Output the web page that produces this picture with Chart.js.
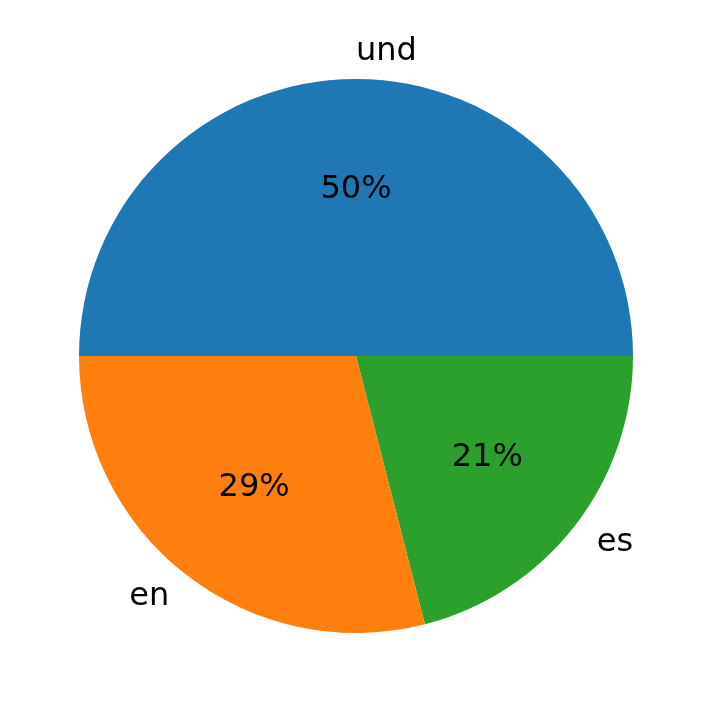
<!DOCTYPE html>
<html><head><meta charset="utf-8">
<script src="https://cdn.jsdelivr.net/npm/chart.js@4"></script>
<style>html,body{margin:0;padding:0;background:#fff}#w{width:712px;height:713px}</style>
</head><body><div id="w"><canvas id="c"></canvas></div>
<script>
// Order: clockwise from 3 o'clock (matplotlib counter-clockwise order reversed)
const categories = ["es", "en", "und"];
const values = [21, 29, 50];
const colors = ["#2ca02c", "#ff7f0e", "#1f77b4"];

const labelPlugin = {
  id: 'pieLabels',
  afterDraw(chart) {
    const ctx = chart.ctx;
    const meta = chart.getDatasetMeta(0);
    const total = values.reduce((a, b) => a + b, 0);
    ctx.save();
    ctx.fillStyle = '#000';
    ctx.font = '32px "DejaVu Sans"';
    ctx.textBaseline = 'middle';
    meta.data.forEach((arc, i) => {
      const mid = (arc.startAngle + arc.endAngle) / 2;
      const r = arc.outerRadius;
      const cx = Math.cos(mid), cy = Math.sin(mid);
      ctx.textAlign = 'center';
      ctx.fillText(Math.round(values[i] / total * 100) + '%', arc.x + cx * r * 0.6, arc.y + cy * r * 0.6);
      ctx.textAlign = cx >= -1e-9 ? 'left' : 'right';
      ctx.fillText(categories[i], arc.x + cx * r * 1.1, arc.y + cy * r * 1.1);
    });
    ctx.restore();
  }
};

new Chart(document.getElementById('c'), {
  type: 'pie',
  data: { labels: categories, datasets: [{ data: values, backgroundColor: colors, borderWidth: 0 }] },
  options: {
    responsive: true, maintainAspectRatio: false, animation: false,
    rotation: 90,
    layout: { padding: { left: 79, right: 79, top: 79, bottom: 80 } },
    plugins: { legend: { display: false }, tooltip: { enabled: false } }
  },
  plugins: [labelPlugin]
});
</script></body></html>
